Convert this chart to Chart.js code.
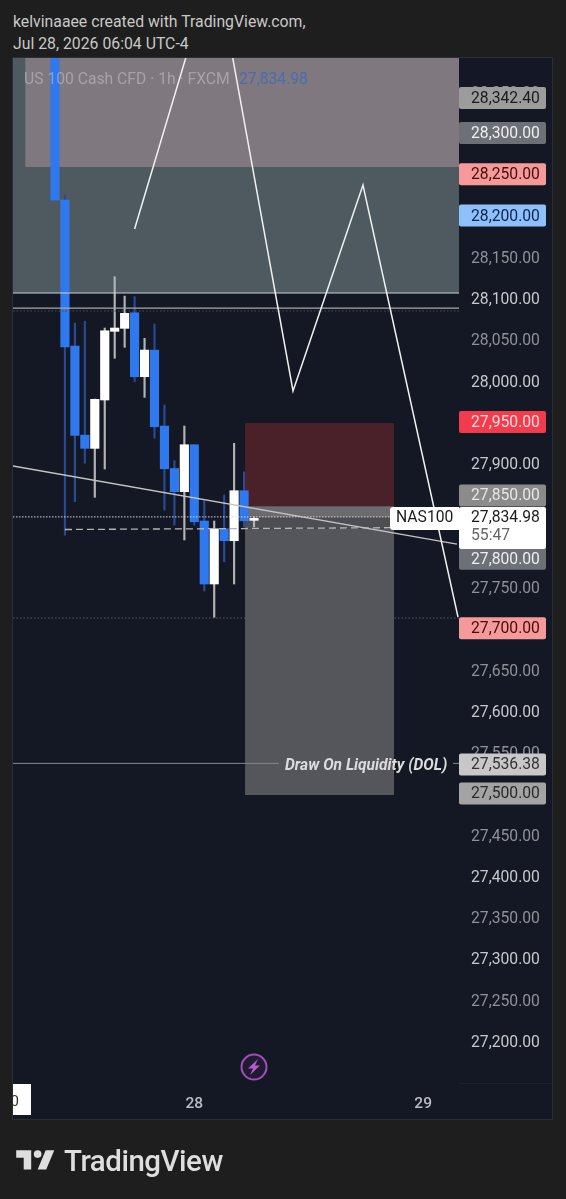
<!DOCTYPE html>
<html>
<head>
<meta charset="utf-8">
<title>NAS100</title>
<script src="https://cdn.jsdelivr.net/npm/chart.js@4"></script>
<style>
  html, body { margin: 0; padding: 0; background: #1e1e1e; width: 566px; height: 1199px; overflow: hidden; font-family: Roboto, sans-serif; }
  #head { position: absolute; left: 13px; top: 11px; color: #c8c8c8; font-size: 15.8px; line-height: 22px; }
  #panel { position: absolute; left: 13px; top: 58px; width: 539px; height: 1061px; background: #141824; box-shadow: 0 0 0 1px #2b2e37; }
  #wrap { position: absolute; left: 0; top: 0; width: 566px; height: 1199px; }
  #logo { position: absolute; left: 16px; top: 1146px; display: flex; align-items: center; color: #dedede; }
  #logo span { font-size: 29.5px; font-weight: 500; letter-spacing: -0.5px; margin-left: 9px; line-height: 28px; }
</style>
</head>
<body>
<div id="head">kelvinaaee created with TradingView.com,<br>Jul 28, 2026 06:04 UTC-4</div>
<div id="panel"></div>
<div id="wrap"><canvas id="canvas" width="566" height="1199"></canvas></div>
<div id="logo">
  <svg width="39" height="30" viewBox="0 0 36 28" fill="#dedede"><path d="M14 22H7V11H0V4h14v18zM28 22h-8l7.5-18h8L28 22z"/><circle cx="20" cy="7.5" r="3.6"/></svg>
  <span>TradingView</span>
</div>
<script>
// candles, x = bar number on the 1h chart
const barNo  = [0, 1, 2, 3, 4, 5, 6, 7, 8, 9, 10, 11, 12, 13, 14, 15, 16, 17, 18, 19, 20]
const opens  = [28430, 28218.8, 28042, 27934, 27918, 27976.6, 28059.8, 28063.4, 28082.3, 28004.8, 28037, 27945, 27893.6, 27865.5, 27922.4, 27830, 27753.7, 27820.6, 27806.1, 27866.7, 27830.8]
const closes = [28218.8, 28041, 27933.8, 27918, 27977.4, 28060.5, 28063.8, 28081.6, 28004.8, 28037.1, 27944.2, 27893.3, 27865.5, 27922.4, 27829.1, 27753.7, 27820.6, 27806.1, 27866.7, 27830.3, 27833.2]
const highs  = [28440, 28225, 28069.8, 28072, 27977.8, 28063.8, 28125.9, 28102.5, 28101.7, 28051.3, 28068.6, 27970.5, 27903, 27945.1, 27922.4, 27854.6, 27830, 27861.5, 27924.1, 27889.7, 27835]
const lows   = [28218.8, 27813, 27853.4, 27900, 27858.7, 27893, 28027.1, 28040.4, 27998.7, 27979.8, 27930.2, 27843.3, 27825.1, 27807, 27825.1, 27745.2, 27713.3, 27780.7, 27753.7, 27823.1, 27823]

const priceTicks = [28350, 28150, 28100, 28050, 28000, 27900, 27750, 27650, 27600, 27550, 27450, 27400, 27350, 27300, 27250, 27200]
const dayBars   = [14, 37]
const dayLabels = ['28', '29']

// drawn by hand on the chart
const zigzagX = [8, 16.08, 23.92, 30.95, 40.5]
const zigzagY = [28183.7, 28509.6, 27987.5, 28237, 27713.7]
const trendX  = [-4.22, 40.4]
const trendY  = [27896.6, 27802]
const dashX   = [1, 33.67]
const dashY   = [27819.7, 27821.9]

const zoneLeft   = [-4.22, -3, 19.1, 19.1, 19.1, 19.1]
const zoneRight  = [40.6, 40.6, 34.07, 34.07, 34.07, 34.07]
const zoneTop    = [28392, 28392, 27948.7, 27848, 27834.98, 27821]
const zoneBottom = [28106.2, 28258.8, 27848, 27834.98, 27821, 27498]
const zoneColors = ['#4f5a60', '#7f787e', '#4a2029', '#6b6b6e', '#4d4e53', '#54565c']

const tagValues = [28342.40, 28300, 28250, 28200, 27950, 27850, 27800, 27700, 27536.38, 27500]
const tagShift  = [0, 0, 0, 0, 0, -9, 13, 0, 1, 0]
const tagBg     = ['#9c9c9c', '#6e7078', '#f59a9a', '#8fc0fb', '#f23b4c', '#8b8b8b', '#6e7078', '#f59a9a', '#c8c8c8', '#a3a3a3']
const tagFg     = ['#1b1b1b', '#eeeeee', '#4a0a0a', '#0b2550', '#fbdcdc', '#e6e6e6', '#eeeeee', '#4a0a0a', '#333333', '#2a2a2a']

const BLUE = '#2f78ee'
const lastPrice = 27834.98
const dolPrice = 27536.38
const lowLevel = 27712.5
const boltPrice = 27168.5

const price = v => v.toLocaleString('en-US', { minimumFractionDigits: 2, maximumFractionDigits: 2 })
const isUp = i => closes[i] >= opens[i]

function lineSet(xs, ys, color, width, dash, order) {
  return {
    type: 'line',
    data: xs.map((x, i) => ({ x: x, y: ys[i] })),
    borderColor: color,
    borderWidth: width,
    borderDash: dash || [],
    pointRadius: 0,
    tension: 0,
    order: order,
  }
}

function zoneSet(i) {
  return {
    type: 'line',
    data: [{ x: zoneLeft[i], y: zoneTop[i] }, { x: zoneRight[i], y: zoneTop[i] }],
    borderWidth: 0,
    pointRadius: 0,
    backgroundColor: zoneColors[i],
    fill: { value: zoneBottom[i] },
    order: 20 - i,
  }
}

const datasets = [
  ...zoneColors.map((c, i) => zoneSet(i)),
  {
    data: barNo.map((x, i) => ({ x: x, y: [lows[i], highs[i]] })),
    backgroundColor: barNo.map((x, i) => isUp(i) ? '#b4b4b4' : '#2a4a92'),
    barThickness: 1.5,
    grouped: false,
    order: 9,
  },
  {
    data: barNo.map((x, i) => ({ x: x, y: [opens[i], closes[i]] })),
    backgroundColor: barNo.map((x, i) => isUp(i) ? '#ffffff' : BLUE),
    barThickness: 8.5,
    grouped: false,
    order: 8,
  },
  lineSet([-4.22, 40.6], [28106.2, 28106.2], '#c6d3d8', 1, null, 7),
  lineSet([-4.22, 40.6], [28088, 28088], '#a8a8a8', 1.3, null, 7),
  lineSet([-4.22, 40.6], [28084.4, 28084.4], '#474a52', 1, [1.5, 2], 7),
  lineSet([-4.22, 40.6], [lowLevel, lowLevel], '#55585f', 1, [1.5, 2], 7),
  lineSet([-4.22, 33.67], [lastPrice, lastPrice], '#d8d8d8', 1, [1.5, 1.5], 6),
  lineSet(dashX, dashY, '#b5b5b5', 1.3, [7, 4], 6),
  lineSet(trendX, trendY, '#c4c4c4', 1.4, null, 5),
  lineSet([-4.22, 22.5, null, 40, 40.6], [dolPrice, dolPrice, null, dolPrice, dolPrice], '#85878c', 1, null, 5),
  lineSet(zigzagX, zigzagY, '#f0f0f0', 1.5, null, 4),
  {
    type: 'line',
    data: [{ x: 20, y: boltPrice }],
    showLine: false,
    pointRadius: 12.5,
    pointBorderWidth: 2,
    pointBorderColor: '#a04fb4',
    pointBackgroundColor: '#221a33',
    order: 3,
  },
]

// tags on the price axis, chart title and the other labels
const overlay = {
  id: 'overlay',
  afterDatasetsDraw(chart) {
    const { ctx, scales: { x, y } } = chart
    ctx.save()
    ctx.textBaseline = 'middle'

    ctx.font = '15.7px Roboto'
    ctx.fillStyle = 'rgba(205,205,210,0.5)'
    ctx.fillText('US 100 Cash CFD · 1h · FXCM', 24, 80)
    ctx.fillStyle = '#4a6cb0'
    ctx.fillText(price(lastPrice), 239, 80)

    tagValues.forEach((v, i) => {
      const py = y.getPixelForValue(v) + tagShift[i]
      ctx.fillStyle = tagBg[i]
      ctx.beginPath()
      ctx.roundRect(459, py - 11, 87, 22, 2)
      ctx.fill()
      ctx.fillStyle = tagFg[i]
      ctx.font = '15.7px Roboto'
      ctx.fillText(price(v), 471, py + 1)
    })

    // last price
    const ly = y.getPixelForValue(lastPrice)
    ctx.fillStyle = '#ffffff'
    ctx.beginPath()
    ctx.roundRect(459, ly - 10, 87, 42, 2)
    ctx.fill()
    ctx.beginPath()
    ctx.roundRect(390, ly - 10, 69, 23, [3, 0, 0, 3])
    ctx.fill()
    ctx.fillStyle = '#1c1c1c'
    ctx.font = '15.7px Roboto'
    ctx.fillText(price(lastPrice), 471, ly + 1)
    ctx.fillText('NAS100', 396, ly + 1)
    ctx.fillStyle = '#666666'
    ctx.fillText('55:47', 471, ly + 19)

    ctx.font = 'italic 700 15.6px Roboto'
    ctx.fillStyle = '#dcdcdc'
    ctx.fillText('Draw On Liquidity (DOL)', 285, y.getPixelForValue(dolPrice) + 2.5)

    // earnings bolt
    const bx = x.getPixelForValue(20), by = y.getPixelForValue(boltPrice)
    ctx.fillStyle = '#b15bc4'
    ctx.beginPath()
    ctx.moveTo(bx + 4, by - 8)
    ctx.lineTo(bx - 6, by + 1.5)
    ctx.lineTo(bx - 1, by + 1.5)
    ctx.lineTo(bx - 4, by + 8)
    ctx.lineTo(bx + 6, by - 1.5)
    ctx.lineTo(bx + 1, by - 1.5)
    ctx.closePath()
    ctx.fill()

    // line under the price axis
    ctx.fillStyle = '#1d212c'
    ctx.fillRect(459, 1083, 93, 1)

    // crosshair date tag, cut off by the left edge
    ctx.fillStyle = '#ffffff'
    ctx.fillRect(13, 1084, 18, 31)
    ctx.beginPath()
    ctx.rect(13, 1084, 18, 31)
    ctx.clip()
    ctx.fillStyle = '#333333'
    ctx.font = '15px Roboto'
    ctx.textAlign = 'right'
    ctx.fillText('0', 19, 1102)
    ctx.restore()
  },
}

const canvas = document.getElementById('canvas')
new Chart(canvas, {
  type: 'bar',
  data: { datasets: datasets },
  plugins: [overlay],
  options: {
    responsive: false,
    animation: false,
    layout: { autoPadding: false, padding: { left: 13, right: 14, top: 58, bottom: 80 } },
    plugins: { legend: { display: false }, tooltip: { enabled: false } },
    scales: {
      x: {
        type: 'linear',
        offset: false,
        bounds: 'data',
        min: -4.22,
        max: 40.6,
        grid: { display: false, drawTicks: false },
        border: { display: false },
        afterBuildTicks: s => { s.ticks = dayBars.map(v => ({ value: v })) },
        afterFit: s => { s.height = 36 },
        ticks: {
          autoSkip: false,
          maxRotation: 0,
          padding: 12,
          color: '#b9bcc2',
          font: { family: 'Roboto', size: 15.5, weight: '500' },
          callback: v => dayLabels[dayBars.indexOf(v)],
        },
      },
      y: {
        position: 'right',
        min: 27149.2,
        max: 28390.9,
        bounds: 'data',
        grid: { display: false, drawTicks: false },
        border: { display: false },
        afterBuildTicks: s => { s.ticks = priceTicks.map(v => ({ value: v })) },
        afterFit: s => { s.width = 93 },
        ticks: {
          autoSkip: false,
          padding: 12,
          labelOffset: 2,
          color: c => c.tick && c.tick.value % 100 === 0 ? '#c6c8cd' : '#8f9198',
          font: { family: 'Roboto', size: 15.7 },
          callback: v => price(v),
        },
      },
    },
  },
})
</script>
</body>
</html>
